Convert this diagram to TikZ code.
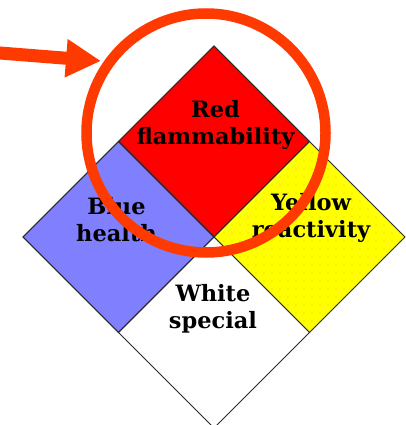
\documentclass[tikz,border=0pt]{standalone}
\usepackage{fontspec}
\setmainfont{DejaVu Serif}
\usetikzlibrary{arrows.meta, patterns.meta}
\definecolor{nfpaRed}{HTML}{FF0000}
\definecolor{nfpaBlue}{HTML}{8080FF}
\definecolor{nfpaYellow}{HTML}{FFFF00}
\definecolor{dotYellow}{HTML}{D2D200}
\definecolor{markOrange}{HTML}{FF3A00}
\definecolor{edgeGray}{HTML}{2A2A2A}
\tikzset{
  quad/.style={draw=edgeGray, line width=0.8pt, line join=miter},
  quadText/.style={font=\bfseries\fontsize{22.5}{27.5}\selectfont, align=center,
                   inner sep=0pt, text=black},
  markArrow/.style={-{Triangle[length=35pt, width=36pt]}, markOrange, line width=13pt},
  markRing/.style={circle, draw=markOrange, line width=10.5pt, inner sep=0pt,
                   minimum size=239pt},
}
\begin{document}
\begin{tikzpicture}[x=1pt, y=-1pt]
    \useasboundingbox (0,0) rectangle (406,425);
    % the four squares of the placard
    \fill[quad, fill=nfpaRed]   (214,46) -- (309.5,141.5) -- (214,237) -- (118.5,141.5) -- cycle;
    \fill[quad, fill=nfpaBlue]  (118.5,141.5) -- (214,237) -- (118.5,332.5) -- (23,237) -- cycle;
    \path[quad, preaction={fill=nfpaYellow},
          pattern={Dots[distance=8pt, radius=0.55pt]}, pattern color=dotYellow]
          (309.5,141.5) -- (405,237) -- (309.5,332.5) -- (214,237) -- cycle;
    \draw[quad, fill=white]     (214,237) -- (309.5,332.5) -- (214,428) -- (118.5,332.5) -- cycle;
    \draw[quad] (214,46) -- (309.5,141.5) -- (214,237) -- (118.5,141.5) -- cycle;
    \draw[quad] (118.5,141.5) -- (214,237) -- (118.5,332.5) -- (23,237) -- cycle;
    \node[quadText] (red)    at (215.5,125) {Red\\flammability};
    \node[quadText] (blue)   at (116.5,219.5) {Blue\\health};
    \node[quadText] (yellow) at (311,218) {Yellow\\reactivity};
    \node[quadText] (white)  at (213,309) {White\\special};
    % marker
    \node[markRing] (ring) at (206,133) {};
    \coordinate (tail) at (-5,52.6);
    \coordinate (tip) at (101,61);
    \draw[markArrow] (tail) -- (tip);
\end{tikzpicture}
\end{document}
